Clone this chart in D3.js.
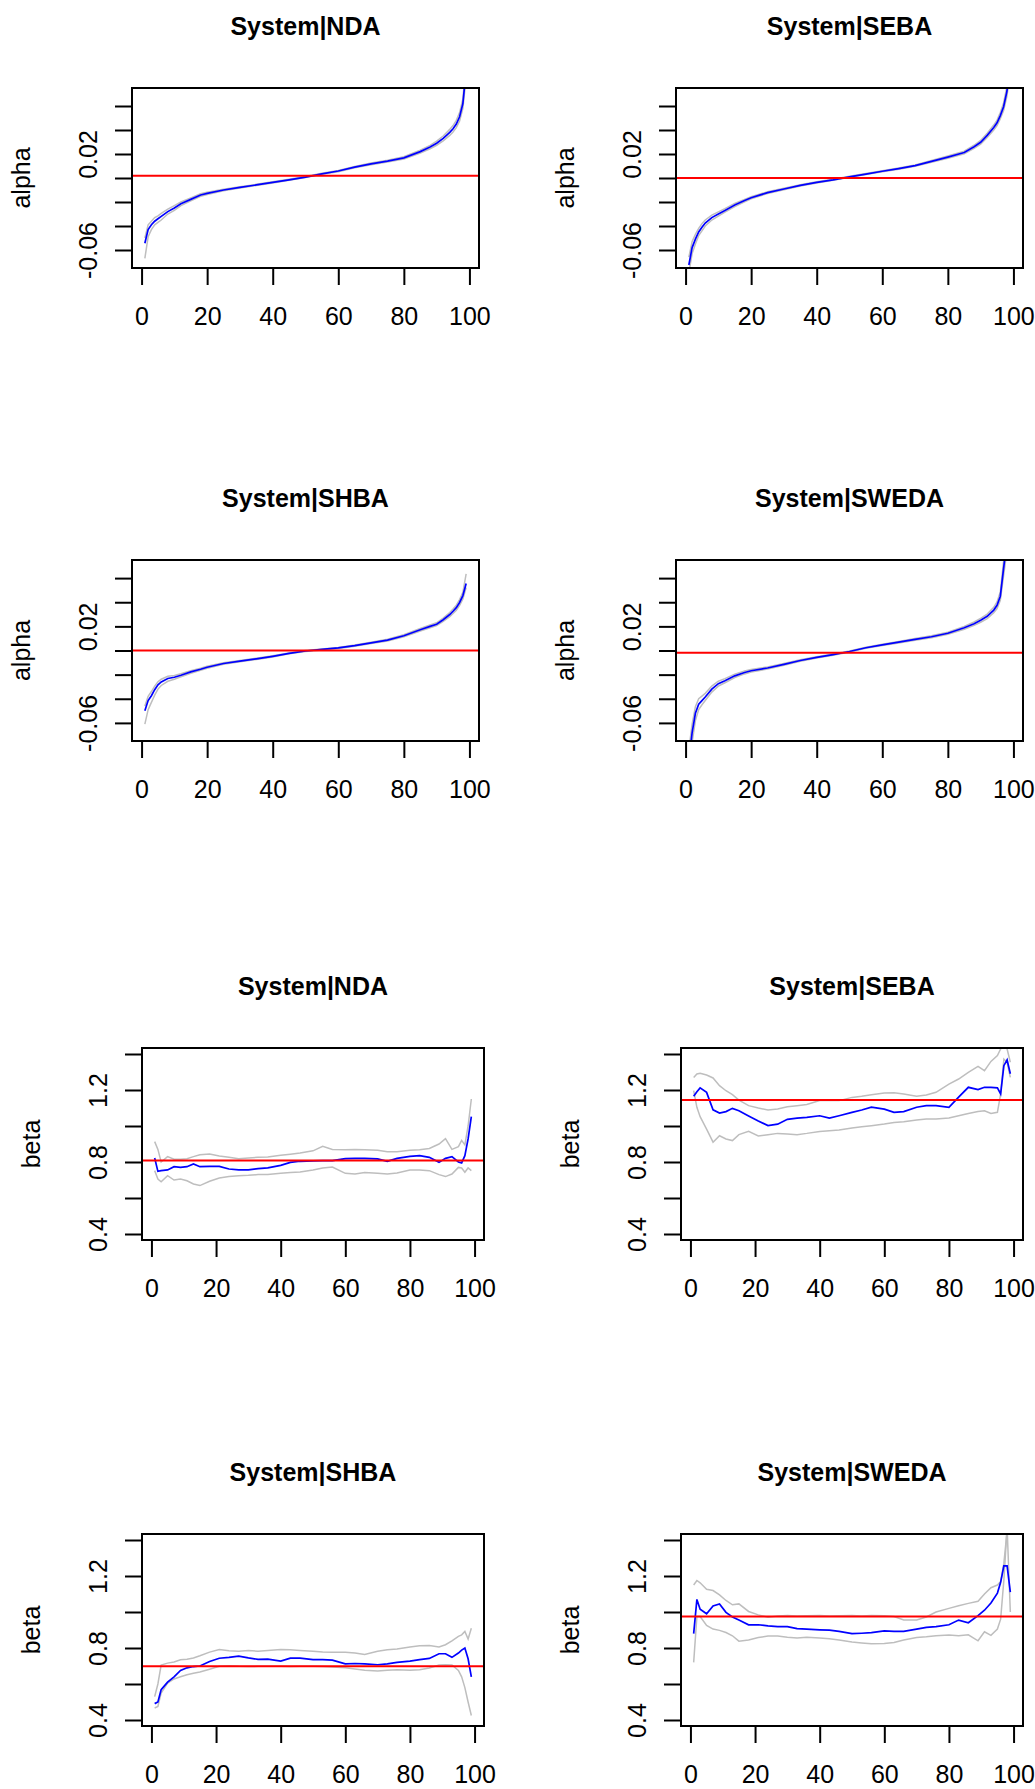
<!DOCTYPE html>
<html>
<head>
<meta charset="utf-8">
<script src="https://cdn.jsdelivr.net/npm/d3@7"></script>
<style>
  html, body { margin: 0; padding: 0; background: #ffffff; }
  svg { display: block; }
  text { font-family: "Liberation Sans", Arial, sans-serif; fill: #000; }
</style>
</head>
<body>
<svg id="chart" width="1035" height="1789"></svg>
<script>
// ---------------- DATA ----------------
const xAlpha = [1,2,3,4,5,6,8,10,12,15,18,20,25,30,35,40,45,50,55,60,65,70,75,80,85,88,90,92,94,95,96,97,98,99];
const xBeta  = [1,2,3,5,7,9,11,13,15,18,21,24,27,30,33,36,40,43,46,50,53,56,60,63,66,70,73,76,80,83,86,89,91,93,95,96,97,98,99];

const xTicks = [0,20,40,60,80,100];
const alphaTicks = [-0.06,-0.04,-0.02,0,0.02,0.04,0.06];
const alphaTickLabels = ["-0.06","","","","0.02","",""];
const betaTicks = [0.4,0.6,0.8,1.0,1.2,1.4];
const betaTickLabels = ["0.4","","0.8","","1.2",""];

const titles = ["System|NDA","System|SEBA","System|SHBA","System|SWEDA","System|NDA","System|SEBA","System|SHBA","System|SWEDA"];

// alpha, System|NDA
const ndaAlphaEst = [-0.0544,-0.043,-0.039,-0.036,-0.034,-0.032,-0.028,-0.025,-0.0215,-0.0178,-0.0142,-0.0128,-0.010,-0.0078,-0.0058,-0.0037,-0.0015,0.0008,0.0035,0.0058,0.0091,0.0118,0.0141,0.0168,0.0220,0.0258,0.029,0.033,0.038,0.041,0.045,0.051,0.062,0.090];
const ndaAlphaLo  = [-0.067,-0.049,-0.043,-0.039,-0.037,-0.035,-0.030,-0.027,-0.023,-0.019,-0.0152,-0.0137,-0.0107,-0.0084,-0.0063,-0.0042,-0.0019,0.0004,0.0031,0.0053,0.0085,0.0111,0.0133,0.0159,0.0208,0.0244,0.0273,0.031,0.0355,0.0383,0.042,0.0475,0.058,0.084];
const ndaAlphaHi  = [-0.050,-0.039,-0.036,-0.033,-0.0315,-0.0295,-0.026,-0.023,-0.020,-0.0166,-0.0132,-0.0119,-0.0093,-0.0072,-0.0053,-0.0032,-0.0011,0.0012,0.0039,0.0063,0.0097,0.0125,0.0149,0.0177,0.0232,0.0272,0.0307,0.035,0.0405,0.0437,0.048,0.0545,0.066,0.096];
// alpha, System|SEBA
const sebaAlphaEst = [-0.0725,-0.058,-0.051,-0.045,-0.041,-0.0375,-0.033,-0.030,-0.027,-0.0225,-0.0188,-0.0165,-0.0122,-0.0092,-0.0062,-0.0036,-0.0015,0.0010,0.0033,0.0056,0.0078,0.0103,0.0138,0.0174,0.0212,0.026,0.0298,0.0355,0.042,0.046,0.052,0.0594,0.072,0.092];
const sebaAlphaLo  = [-0.079,-0.063,-0.055,-0.048,-0.044,-0.040,-0.035,-0.0318,-0.0285,-0.0238,-0.0198,-0.0174,-0.0129,-0.0098,-0.0067,-0.0041,-0.0019,0.0006,0.0029,0.0051,0.0073,0.0097,0.0131,0.0165,0.0201,0.0247,0.0283,0.0337,0.0399,0.0437,0.0494,0.0563,0.068,0.087];
const sebaAlphaHi  = [-0.066,-0.053,-0.047,-0.042,-0.038,-0.035,-0.031,-0.0282,-0.0255,-0.0212,-0.0178,-0.0156,-0.0115,-0.0086,-0.0057,-0.0031,-0.0011,0.0014,0.0037,0.0061,0.0083,0.0109,0.0145,0.0183,0.0223,0.0273,0.0313,0.0373,0.0441,0.0483,0.0546,0.0625,0.076,0.097];
// alpha, System|SHBA
const shbaAlphaEst = [-0.050,-0.0415,-0.0375,-0.0325,-0.0285,-0.026,-0.0232,-0.0222,-0.0205,-0.0177,-0.0155,-0.0139,-0.0108,-0.0088,-0.0069,-0.0048,-0.0024,-0.0004,0.0009,0.0021,0.0040,0.0063,0.0086,0.0122,0.0172,0.0200,0.0218,0.0255,0.0298,0.0325,0.0355,0.0398,0.0455,0.0555];
const shbaAlphaLo  = [-0.061,-0.049,-0.043,-0.037,-0.032,-0.029,-0.0255,-0.0238,-0.0218,-0.0188,-0.0164,-0.0147,-0.0115,-0.0094,-0.0074,-0.0053,-0.0028,-0.0008,0.0005,0.0017,0.0035,0.0057,0.0079,0.0114,0.0162,0.0189,0.0206,0.0241,0.0281,0.0306,0.0334,0.0374,0.0428,0.0522];
const shbaAlphaHi  = [-0.046,-0.038,-0.034,-0.0295,-0.026,-0.0238,-0.0214,-0.0207,-0.0193,-0.0167,-0.0147,-0.0131,-0.0101,-0.0082,-0.0064,-0.0043,-0.002,0.0,0.0013,0.0025,0.0045,0.0069,0.0093,0.013,0.0182,0.0211,0.023,0.0269,0.0315,0.0344,0.0376,0.0422,0.0482,0.0635];
// alpha, System|SWEDA
const swedaAlphaEst = [-0.092,-0.068,-0.052,-0.0445,-0.0415,-0.0385,-0.032,-0.0275,-0.025,-0.021,-0.0182,-0.0168,-0.0145,-0.0115,-0.0083,-0.0057,-0.0034,-0.0008,0.0023,0.0047,0.0069,0.0092,0.0114,0.0143,0.0188,0.0222,0.025,0.0283,0.0335,0.0375,0.045,0.068,0.09,0.11];
const swedaAlphaLo  = [-0.102,-0.076,-0.058,-0.049,-0.045,-0.0415,-0.0345,-0.0295,-0.0267,-0.0224,-0.0194,-0.0179,-0.0154,-0.0123,-0.009,-0.0063,-0.0039,-0.0012,0.0019,0.0042,0.0063,0.0085,0.0106,0.0134,0.0176,0.0208,0.0234,0.0264,0.0312,0.0348,0.0415,0.062,0.082,0.10];
const swedaAlphaHi  = [-0.082,-0.061,-0.0465,-0.040,-0.0378,-0.0355,-0.0295,-0.0255,-0.0233,-0.0196,-0.017,-0.0157,-0.0136,-0.0107,-0.0076,-0.0051,-0.0029,-0.0004,0.0027,0.0052,0.0075,0.0099,0.0122,0.0152,0.02,0.0236,0.0266,0.0302,0.0358,0.0402,0.0485,0.074,0.098,0.12];

// beta, System|NDA
const ndaBetaEst = [0.822,0.748,0.752,0.756,0.774,0.770,0.774,0.789,0.774,0.776,0.776,0.761,0.756,0.756,0.763,0.767,0.781,0.798,0.804,0.806,0.808,0.808,0.819,0.820,0.820,0.817,0.804,0.820,0.831,0.835,0.826,0.798,0.820,0.830,0.800,0.795,0.835,0.928,1.052];
const ndaBetaLo  = [0.752,0.705,0.69,0.724,0.70,0.705,0.696,0.678,0.669,0.693,0.711,0.719,0.724,0.726,0.730,0.730,0.737,0.741,0.744,0.756,0.767,0.772,0.737,0.733,0.741,0.737,0.733,0.739,0.756,0.756,0.752,0.730,0.719,0.733,0.770,0.767,0.743,0.767,0.752];
const ndaBetaHi  = [0.913,0.87,0.80,0.83,0.815,0.815,0.818,0.83,0.84,0.845,0.833,0.826,0.818,0.822,0.826,0.828,0.837,0.843,0.85,0.862,0.887,0.87,0.868,0.87,0.868,0.865,0.857,0.857,0.865,0.868,0.875,0.9,0.93,0.87,0.885,0.92,0.895,1.0,1.15];
// beta, System|SEBA
const sebaBetaEst = [1.165,1.19,1.212,1.187,1.09,1.072,1.08,1.098,1.085,1.056,1.028,1.002,1.01,1.037,1.044,1.048,1.057,1.044,1.057,1.076,1.089,1.105,1.094,1.076,1.08,1.104,1.113,1.113,1.104,1.16,1.215,1.202,1.215,1.215,1.212,1.178,1.335,1.367,1.29];
const sebaBetaLo  = [1.196,1.104,1.052,0.983,0.91,0.946,0.928,0.919,0.952,0.97,0.945,0.952,0.959,0.956,0.952,0.959,0.97,0.974,0.978,0.989,0.996,1.002,1.011,1.019,1.024,1.033,1.039,1.039,1.044,1.057,1.07,1.08,1.085,1.07,1.076,1.178,1.372,1.354,1.27];
const sebaBetaHi  = [1.27,1.289,1.293,1.283,1.267,1.224,1.196,1.174,1.144,1.113,1.1,1.089,1.094,1.107,1.113,1.119,1.141,1.141,1.141,1.159,1.165,1.174,1.183,1.185,1.178,1.165,1.172,1.187,1.233,1.261,1.298,1.331,1.307,1.359,1.391,1.428,1.446,1.428,1.354];
// beta, System|SHBA
const shbaBetaEst = [0.491,0.50,0.568,0.61,0.64,0.675,0.69,0.697,0.70,0.725,0.743,0.748,0.755,0.745,0.737,0.738,0.727,0.744,0.744,0.735,0.735,0.733,0.712,0.714,0.712,0.707,0.712,0.72,0.727,0.735,0.742,0.768,0.768,0.748,0.772,0.788,0.80,0.74,0.64];
const shbaBetaLo  = [0.467,0.475,0.55,0.605,0.628,0.64,0.651,0.66,0.667,0.682,0.698,0.701,0.698,0.697,0.698,0.699,0.698,0.697,0.698,0.698,0.697,0.695,0.69,0.684,0.677,0.672,0.677,0.679,0.676,0.679,0.689,0.705,0.707,0.706,0.675,0.64,0.58,0.50,0.425];
const shbaBetaHi  = [0.53,0.6,0.705,0.716,0.722,0.735,0.738,0.745,0.757,0.777,0.792,0.785,0.782,0.786,0.782,0.786,0.792,0.79,0.786,0.782,0.778,0.777,0.776,0.772,0.764,0.782,0.79,0.794,0.806,0.812,0.814,0.806,0.818,0.84,0.865,0.873,0.892,0.85,0.91];
// beta, System|SWEDA
const swedaBetaEst = [0.88,1.07,1.015,0.99,1.034,1.045,0.998,0.972,0.955,0.929,0.929,0.923,0.919,0.919,0.908,0.905,0.901,0.899,0.892,0.88,0.882,0.885,0.895,0.892,0.892,0.905,0.915,0.919,0.929,0.955,0.94,0.98,1.01,1.05,1.105,1.165,1.256,1.256,1.11];
const swedaBetaLo  = [0.72,0.975,0.975,0.925,0.905,0.898,0.886,0.868,0.838,0.845,0.858,0.866,0.866,0.86,0.856,0.86,0.856,0.852,0.845,0.833,0.828,0.824,0.825,0.831,0.845,0.858,0.862,0.868,0.872,0.868,0.873,0.84,0.89,0.87,0.905,0.96,1.178,1.47,1.0];
const swedaBetaHi  = [1.15,1.175,1.162,1.126,1.119,1.095,1.064,1.04,1.045,1.003,0.984,0.971,0.978,0.98,0.978,0.979,0.98,0.978,0.979,0.98,0.978,0.98,0.979,0.975,0.956,0.956,0.972,1.0,1.02,1.035,1.048,1.06,1.1,1.135,1.15,1.169,1.27,1.45,1.6];

// horizontal reference levels (red lines)
const refLevels = [0.0019, 0.0, 0.0, -0.0019, 0.809, 1.144, 0.698, 0.975];

// ---------------- LAYOUT ----------------
const alphaDomain = [-0.075, 0.075];
const betaDomain = [0.4 - 6/180, 1.4 + 6/180];
const xDomain = [-2.92, 102.92];

const panels = [
  {box:[132, 88, 479, 268], kind:"alpha", est:ndaAlphaEst,  lo:ndaAlphaLo,  hi:ndaAlphaHi},
  {box:[676, 88, 1023, 268], kind:"alpha", est:sebaAlphaEst, lo:sebaAlphaLo, hi:sebaAlphaHi},
  {box:[132, 560, 479, 741], kind:"alpha", est:shbaAlphaEst, lo:shbaAlphaLo, hi:shbaAlphaHi},
  {box:[676, 560, 1023, 741], kind:"alpha", est:swedaAlphaEst, lo:swedaAlphaLo, hi:swedaAlphaHi},
  {box:[142, 1048, 484, 1240], kind:"beta", est:ndaBetaEst,  lo:ndaBetaLo,  hi:ndaBetaHi},
  {box:[681, 1048, 1023, 1240], kind:"beta", est:sebaBetaEst, lo:sebaBetaLo, hi:sebaBetaHi},
  {box:[142, 1534, 484, 1726], kind:"beta", est:shbaBetaEst, lo:shbaBetaLo, hi:shbaBetaHi},
  {box:[681, 1534, 1023, 1726], kind:"beta", est:swedaBetaEst, lo:swedaBetaLo, hi:swedaBetaHi}
];

const FONT = 25;
const svg = d3.select("#chart");

panels.forEach((p, k) => {
  const [x0, y0, x1, y1] = p.box;
  const isAlpha = p.kind === "alpha";
  const X = isAlpha ? xAlpha : xBeta;
  const xs = d3.scaleLinear().domain(xDomain).range([x0, x1]);
  const ys = d3.scaleLinear().domain(isAlpha ? alphaDomain : betaDomain).range([y1, y0]);
  const g = svg.append("g");

  const clipId = "clip" + k;
  svg.append("clipPath").attr("id", clipId)
    .append("rect").attr("x", x0).attr("y", y0).attr("width", x1 - x0).attr("height", y1 - y0);

  const line = d3.line().x((d, i) => xs(X[i])).y(d => ys(d));
  const plot = g.append("g").attr("clip-path", `url(#${clipId})`);

  [p.lo, p.hi].forEach(arr => {
    plot.append("path").attr("d", line(arr))
      .attr("fill", "none").attr("stroke", "#bebebe").attr("stroke-width", 1.5);
  });
  plot.append("path").attr("d", line(p.est))
    .attr("fill", "none").attr("stroke", "#0000ff").attr("stroke-width", 1.7);
  plot.append("line")
    .attr("x1", x0).attr("x2", x1)
    .attr("y1", ys(refLevels[k])).attr("y2", ys(refLevels[k]))
    .attr("stroke", "#ff0000").attr("stroke-width", 2);

  // box
  g.append("rect").attr("x", x0).attr("y", y0).attr("width", x1 - x0).attr("height", y1 - y0)
    .attr("fill", "none").attr("stroke", "#000").attr("stroke-width", 2);

  // x axis
  const xAxis = d3.axisBottom(xs).tickValues(xTicks).tickSize(17).tickPadding(15).tickFormat(d3.format("d"));
  const xg = g.append("g").attr("transform", `translate(0,${y1})`).call(xAxis);
  xg.select(".domain").remove();
  xg.selectAll(".tick line").attr("stroke", "#000").attr("stroke-width", 2);
  xg.selectAll(".tick text").attr("font-size", FONT).attr("font-family", '"Liberation Sans", Arial, sans-serif')
    .attr("fill", "#000").attr("dy", null).attr("y", 57).style("dominant-baseline", "auto");

  // y axis
  const yt = isAlpha ? alphaTicks : betaTicks;
  const yl = isAlpha ? alphaTickLabels : betaTickLabels;
  const yAxis = d3.axisLeft(ys).tickValues(yt).tickSize(17).tickFormat((d, i) => yl[i]);
  const yg = g.append("g").attr("transform", `translate(${x0},0)`).call(yAxis);
  yg.select(".domain").remove();
  yg.selectAll(".tick line").attr("stroke", "#000").attr("stroke-width", 2);
  yg.selectAll(".tick text")
    .attr("font-size", FONT).attr("font-family", '"Liberation Sans", Arial, sans-serif').attr("fill", "#000")
    .attr("x", null).attr("dy", null)
    .attr("text-anchor", "middle")
    .attr("transform", "translate(-35,0) rotate(-90)");

  // y label
  g.append("text")
    .attr("transform", `translate(${x0 - 102},${(y0 + y1) / 2}) rotate(-90)`)
    .attr("text-anchor", "middle").attr("font-size", FONT)
    .text(p.kind);

  // title
  g.append("text")
    .attr("x", (x0 + x1) / 2).attr("y", y0 - 53)
    .attr("text-anchor", "middle").attr("font-size", FONT).attr("font-weight", "bold")
    .text(titles[k]);
});
</script>
</body>
</html>
